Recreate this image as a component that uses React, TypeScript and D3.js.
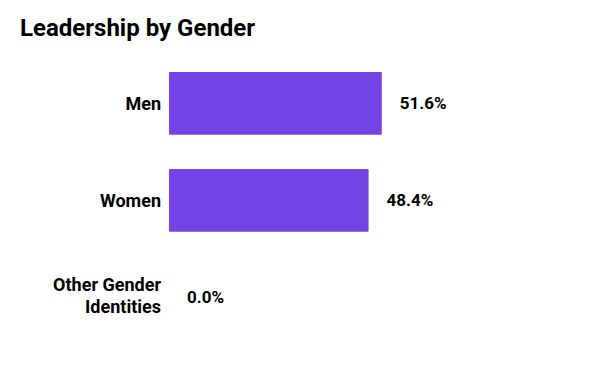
import React from "react";
import * as d3 from "d3";

const categories = ["Men", "Women", "Other Gender Identities"];
const values = [51.6, 48.4, 0.0];
const labelLines: Record<string, string[]> = {
  "Other Gender Identities": ["Other Gender", "Identities"],
};

export default function App() {
  const width = 600;
  const height = 371;

  const x = d3.scaleLinear().domain([0, 100]).range([169, 581.4]);
  const y = d3
    .scaleBand<string>()
    .domain(categories)
    .range([54.8, 345.8])
    .paddingInner(0.354)
    .paddingOuter(0.177);

  const font = "Roboto, 'Noto Sans', sans-serif";

  return (
    <svg width={width} height={height} style={{ position: "absolute", left: 0, top: 0 }}>
      <rect width={width} height={height} fill="#fff" />
      <text x={20} y={36} fontFamily={font} fontWeight={700} fontSize={24} fill="#000">
        Leadership by Gender
      </text>
      {categories.map((c, i) => {
        const y0 = y(c)!;
        const cy = y0 + y.bandwidth() / 2;
        const lines = labelLines[c] || [c];
        const lh = 22;
        const shift = lines.length > 1 ? -1.5 : 0;
        return (
          <g key={c}>
            {values[i] > 0 && (
              <rect
                x={x(0)}
                y={y0}
                width={x(values[i]) - x(0)}
                height={y.bandwidth()}
                rx={1}
                fill="#7443e3"
              />
            )}
            <text
              x={161}
              textAnchor="end"
              fontFamily={font}
              fontWeight={700}
              fontSize={18}
              fill="#000"
            >
              {lines.map((l, j) => (
                <tspan key={j} x={161} y={cy + shift + (j - (lines.length - 1) / 2) * lh} dy="0.35em">
                  {l}
                </tspan>
              ))}
            </text>
            <text
              x={x(values[i]) + 18}
              y={cy}
              dy="0.35em"
              fontFamily={font}
              fontWeight={700}
              fontSize={17}
              fill="#000"
            >
              {values[i].toFixed(1)}%
            </text>
          </g>
        );
      })}
    </svg>
  );
}
